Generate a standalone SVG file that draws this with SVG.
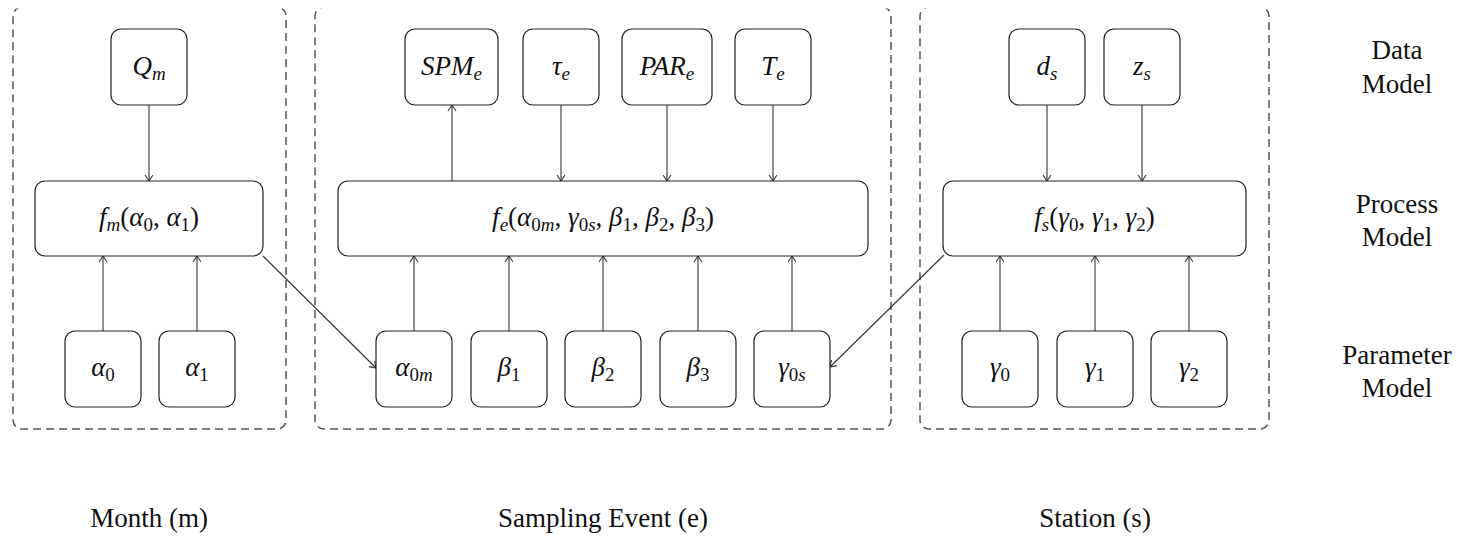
<svg xmlns="http://www.w3.org/2000/svg" width="1460" height="537" viewBox="0 0 1460 537">
<style>
.frame{fill:none;stroke:#555;stroke-width:1.5;stroke-dasharray:8 5}
.box{fill:#fff;stroke:#222;stroke-width:1.2}
.c line{stroke:#333;stroke-width:1.1;marker-end:url(#arr)}
text{font-family:"Liberation Serif","Times New Roman",Times,Tinos,"Noto Serif","DejaVu Serif",FreeSerif,serif;font-size:27px;fill:#111;text-anchor:middle}
.i{font-style:italic}
.s{font-size:19px}
</style>
<defs>
<marker id="arr" markerUnits="userSpaceOnUse" markerWidth="12" markerHeight="12" viewBox="-7 -6 8 12" refX="0" refY="0" orient="auto" overflow="visible">
<path d="M-6,-4 L0,0 L-6,4" fill="none" stroke="#333" stroke-width="1.1"/>
</marker>
<clipPath id="clipTop"><rect x="0" y="8.5" width="1460" height="530"/></clipPath>
</defs>
<rect width="1460" height="537" fill="#fff"/>
<g id="groups" clip-path="url(#clipTop)">
<rect id="month-frame" class="frame" x="13" y="7" width="273" height="422" rx="9"/>
<rect id="event-frame" class="frame" x="315" y="7" width="576" height="422" rx="9"/>
<rect id="station-frame" class="frame" x="920" y="7" width="349" height="422" rx="9"/>
</g>
<g id="connectors" class="c">
<line x1="149" y1="105" x2="149" y2="181"/>
<line x1="103" y1="331" x2="103" y2="256"/>
<line x1="197" y1="331" x2="197" y2="256"/>
<line x1="263" y1="256" x2="376" y2="368"/>
<line x1="452" y1="181" x2="452" y2="105"/>
<line x1="561" y1="105" x2="561" y2="181"/>
<line x1="667" y1="105" x2="667" y2="181"/>
<line x1="773" y1="105" x2="773" y2="181"/>
<line x1="414" y1="331" x2="414" y2="256"/>
<line x1="509" y1="331" x2="509" y2="256"/>
<line x1="603" y1="331" x2="603" y2="256"/>
<line x1="698" y1="331" x2="698" y2="256"/>
<line x1="792" y1="331" x2="792" y2="256"/>
<line x1="1047" y1="105" x2="1047" y2="181"/>
<line x1="1142" y1="105" x2="1142" y2="181"/>
<line x1="944" y1="255" x2="830" y2="367"/>
<line x1="1000" y1="331" x2="1000" y2="256"/>
<line x1="1095" y1="331" x2="1095" y2="256"/>
<line x1="1189" y1="331" x2="1189" y2="256"/>
</g>
<g id="Qm"><rect class="box" x="111" y="29" width="76" height="76" rx="10"/><text x="149" y="75"><tspan class="i">Q</tspan><tspan class="i s" dy="5">m</tspan></text></g>
<g id="fm"><rect class="box" x="35" y="181" width="228" height="75" rx="10"/><text x="149" y="226"><tspan class="i">f</tspan><tspan class="i s" dy="5">m</tspan><tspan dy="-5">(</tspan><tspan class="i">α</tspan><tspan class="s" dy="5">0</tspan><tspan dy="-5">, </tspan><tspan class="i">α</tspan><tspan class="s" dy="5">1</tspan><tspan dy="-5">)</tspan></text></g>
<g id="alpha0"><rect class="box" x="65" y="331" width="76" height="76" rx="10"/><text x="103" y="376"><tspan class="i">α</tspan><tspan class="s" dy="5">0</tspan></text></g>
<g id="alpha1"><rect class="box" x="159" y="331" width="76" height="76" rx="10"/><text x="197" y="376"><tspan class="i">α</tspan><tspan class="s" dy="5">1</tspan></text></g>
<g id="SPMe"><rect class="box" x="405" y="29" width="93" height="76" rx="10"/><text x="451.5" y="75"><tspan class="i">SPM</tspan><tspan class="i s" dy="5">e</tspan></text></g>
<g id="taue"><rect class="box" x="523" y="29" width="76" height="76" rx="10"/><text x="561" y="75"><tspan class="i">τ</tspan><tspan class="i s" dy="5">e</tspan></text></g>
<g id="PARe"><rect class="box" x="622" y="29" width="90" height="76" rx="10"/><text x="667" y="75"><tspan class="i">PAR</tspan><tspan class="i s" dy="5">e</tspan></text></g>
<g id="Te"><rect class="box" x="735" y="29" width="76" height="76" rx="10"/><text x="773" y="75"><tspan class="i">T</tspan><tspan class="i s" dy="5">e</tspan></text></g>
<g id="fe"><rect class="box" x="338" y="181" width="530" height="75" rx="10"/><text x="603" y="226"><tspan class="i">f</tspan><tspan class="i s" dy="5">e</tspan><tspan dy="-5">(</tspan><tspan class="i">α</tspan><tspan class="s" dy="5">0<tspan class="i">m</tspan></tspan><tspan dy="-5">, </tspan><tspan class="i">γ</tspan><tspan class="s" dy="5">0<tspan class="i">s</tspan></tspan><tspan dy="-5">, </tspan><tspan class="i">β</tspan><tspan class="s" dy="5">1</tspan><tspan dy="-5">, </tspan><tspan class="i">β</tspan><tspan class="s" dy="5">2</tspan><tspan dy="-5">, </tspan><tspan class="i">β</tspan><tspan class="s" dy="5">3</tspan><tspan dy="-5">)</tspan></text></g>
<g id="alpha0m"><rect class="box" x="376" y="331" width="76" height="76" rx="10"/><text x="414" y="376"><tspan class="i">α</tspan><tspan class="s" dy="5">0<tspan class="i">m</tspan></tspan></text></g>
<g id="beta1"><rect class="box" x="471" y="331" width="76" height="76" rx="10"/><text x="509" y="376"><tspan class="i">β</tspan><tspan class="s" dy="5">1</tspan></text></g>
<g id="beta2"><rect class="box" x="565" y="331" width="76" height="76" rx="10"/><text x="603" y="376"><tspan class="i">β</tspan><tspan class="s" dy="5">2</tspan></text></g>
<g id="beta3"><rect class="box" x="660" y="331" width="76" height="76" rx="10"/><text x="698" y="376"><tspan class="i">β</tspan><tspan class="s" dy="5">3</tspan></text></g>
<g id="gamma0s"><rect class="box" x="754" y="331" width="76" height="76" rx="10"/><text x="792" y="376"><tspan class="i">γ</tspan><tspan class="s" dy="5">0<tspan class="i">s</tspan></tspan></text></g>
<g id="ds"><rect class="box" x="1009" y="29" width="76" height="76" rx="10"/><text x="1047" y="75"><tspan class="i">d</tspan><tspan class="i s" dy="5">s</tspan></text></g>
<g id="zs"><rect class="box" x="1104" y="29" width="76" height="76" rx="10"/><text x="1142" y="75"><tspan class="i">z</tspan><tspan class="i s" dy="5">s</tspan></text></g>
<g id="fs"><rect class="box" x="943" y="181" width="303" height="75" rx="10"/><text x="1094.5" y="226"><tspan class="i">f</tspan><tspan class="i s" dy="5">s</tspan><tspan dy="-5">(</tspan><tspan class="i">γ</tspan><tspan class="s" dy="5">0</tspan><tspan dy="-5">, </tspan><tspan class="i">γ</tspan><tspan class="s" dy="5">1</tspan><tspan dy="-5">, </tspan><tspan class="i">γ</tspan><tspan class="s" dy="5">2</tspan><tspan dy="-5">)</tspan></text></g>
<g id="gamma0"><rect class="box" x="962" y="331" width="76" height="76" rx="10"/><text x="1000" y="376"><tspan class="i">γ</tspan><tspan class="s" dy="5">0</tspan></text></g>
<g id="gamma1"><rect class="box" x="1057" y="331" width="76" height="76" rx="10"/><text x="1095" y="376"><tspan class="i">γ</tspan><tspan class="s" dy="5">1</tspan></text></g>
<g id="gamma2"><rect class="box" x="1151" y="331" width="76" height="76" rx="10"/><text x="1189" y="376"><tspan class="i">γ</tspan><tspan class="s" dy="5">2</tspan></text></g>
<g id="row-labels">
<text x="1397" y="59">Data</text><text x="1397" y="93">Model</text>
<text x="1397" y="213">Process</text><text x="1397" y="246">Model</text>
<text x="1397" y="364">Parameter</text><text x="1397" y="397">Model</text>
</g>
<g id="column-labels">
<text x="149" y="527">Month (m)</text>
<text x="603" y="527">Sampling Event (e)</text>
<text x="1095" y="527">Station (s)</text>
</g>
</svg>
